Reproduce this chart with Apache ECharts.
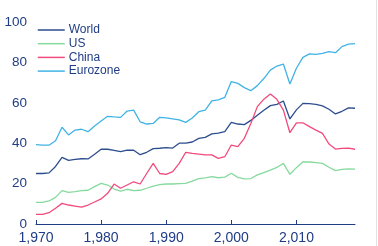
<!DOCTYPE html>
<html>
<head>
<meta charset="utf-8">
<script src="https://cdn.jsdelivr.net/npm/echarts@6/dist/echarts.min.js"></script>
<style>
  html, body { margin: 0; padding: 0; background: #fff; }
  #chart { width: 378px; height: 246px; }
</style>
</head>
<body>
<div id="chart"></div>
<script>
// years 1970 .. 2019
var years = []
for (var y = 1970; y <= 2019; y++) years.push(y)

var world = [25, 25, 25.3, 28.5, 33, 31.5, 32, 32.3, 32.2, 34.5,
  37, 37, 36.5, 35.8, 36.6, 36.5, 34.3, 35.5, 37.3, 37.5,
  37.8, 37.6, 40, 40, 40.6, 42.4, 42.9, 44.6, 45, 45.7,
  50.3, 49.5, 49.2, 51.3, 53.8, 56.3, 58.6, 59.2, 60.9, 52,
  56.5, 59.7, 59.6, 59.2, 58.5, 56.8, 54.5, 55.8, 57.5, 57.3]

var us = [10.7, 10.7, 11.4, 13.2, 16.5, 15.7, 16, 16.5, 16.7, 18.5,
  20.1, 19.3, 17.3, 16.3, 17.2, 16.5, 16.7, 17.7, 18.8, 19.5,
  19.8, 19.8, 20, 20.1, 21.2, 22.5, 22.8, 23.4, 22.9, 23.2,
  25.1, 23.1, 22.3, 22.5, 24.3, 25.4, 26.7, 28, 30, 24.6,
  27.9, 30.8, 30.7, 30.4, 30, 28.1, 26.4, 27, 27.3, 27.2]

var china = [4.8, 4.8, 5.6, 7.8, 10.2, 9.4, 8.9, 8.3, 9.4, 10.9,
  12.4, 15.2, 19.8, 17.7, 19.3, 20.9, 19.8, 25, 30, 25,
  24.6, 25.9, 30, 35.5, 35, 34.6, 34.2, 34.2, 32.5, 33.3,
  39.1, 38.3, 42.4, 49.8, 58.1, 61.8, 64.4, 61.7, 56.4, 45.2,
  50.1, 50.1, 48.2, 46.5, 44.9, 39.6, 37.1, 37.4, 37.6, 37]

var eurozone = [39.3, 39, 39, 41.2, 47.9, 44.1, 46.5, 46.9, 45.7, 48.5,
  51, 53.3, 53, 52.8, 55.9, 56.4, 50.6, 49.5, 49.8, 52.8,
  52.5, 52, 51.5, 50.3, 52.5, 55.6, 56.4, 60.9, 61.5, 62.7,
  70.5, 69.6, 67.5, 66, 68.5, 72, 76.2, 78.2, 79.2, 69.3,
  77.1, 82.5, 84.2, 84, 84.5, 85.3, 84.8, 87.8, 89, 89.3]

var xTicks = [1970, 1980, 1990, 2000, 2010]

var navy = '#1f3c84'

function pairs(vals) {
  return vals.map(function (v, i) { return [years[i], v] })
}

function line(name, vals, color) {
  return {
    name: name,
    type: 'line',
    data: pairs(vals),
    symbol: 'none',
    showSymbol: false,
    lineStyle: { color: color, width: 1.3 },
    itemStyle: { color: color }
  }
}

var chart = echarts.init(document.getElementById('chart'))
chart.setOption({
  animation: false,
  grid: { left: 36, right: 23, top: 22, bottom: 22 },
  legend: {
    orient: 'vertical',
    left: 37,
    top: 24,
    padding: 0,
    itemWidth: 27,
    itemHeight: 10,
    itemGap: 1.7,
    itemStyle: { opacity: 0 },
    lineStyle: { width: 1.5 },
    textStyle: { color: navy, fontSize: 12, lineHeight: 10, fontFamily: 'Liberation Sans', padding: [0, 0, 0, -1] },
    data: ['World', 'US', 'China', 'Eurozone']
  },
  xAxis: {
    type: 'value',
    min: 1970,
    max: 2019,
    splitLine: { show: false },
    axisLine: { lineStyle: { color: navy, width: 1 } },
    axisTick: { inside: true, length: 4, lineStyle: { color: navy }, customValues: xTicks },
    axisLabel: { color: navy, fontSize: 14, margin: 7, fontFamily: 'Liberation Sans', customValues: xTicks }
  },
  yAxis: {
    type: 'value',
    min: 0,
    max: 100,
    interval: 20,
    splitLine: { show: false },
    axisLine: { show: false },
    axisTick: { show: false },
    axisLabel: { color: navy, fontSize: 13.5, margin: 9, fontFamily: 'Liberation Sans' }
  },
  graphic: [{
    type: 'line',
    shape: { x1: 376.5, y1: 0, x2: 376.5, y2: 246 },
    style: { stroke: '#e2e2e2', lineWidth: 1 }
  }],
  series: [
    line('World', world, '#2c4d8e'),
    line('US', us, '#86da9e'),
    line('China', china, '#f24a7c'),
    line('Eurozone', eurozone, '#41b3e6')
  ]
})
</script>
</body>
</html>
